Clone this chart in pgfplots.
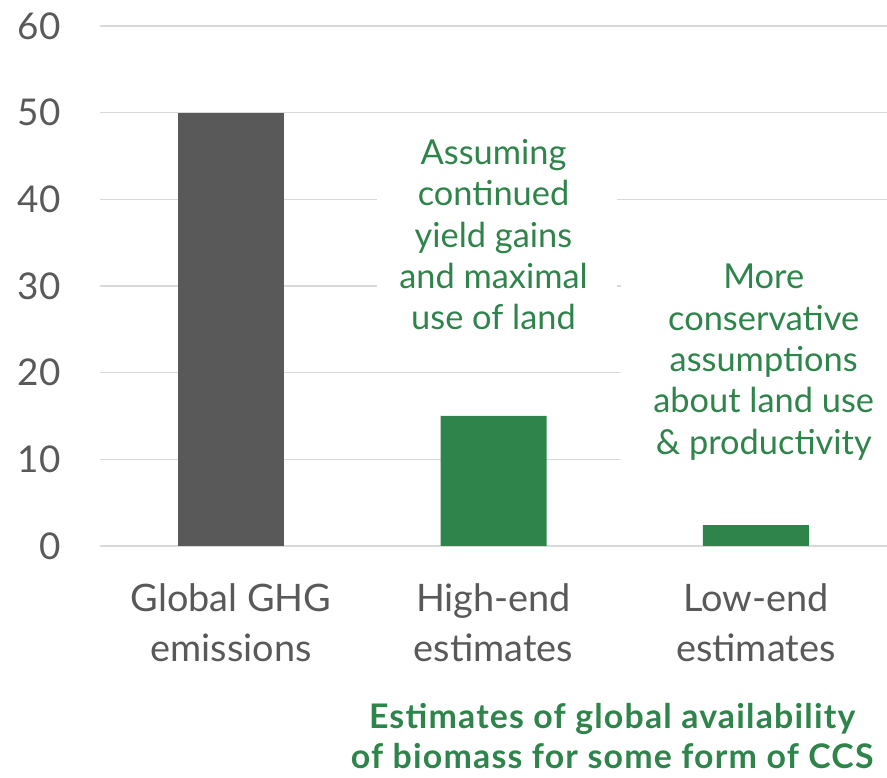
\documentclass[border=0pt]{standalone}
\usepackage{pgfplots}
\pgfplotsset{compat=1.18}
\usepackage{fontspec}
\setmainfont{Lato}
\definecolor{grn}{HTML}{2E844A}
\definecolor{dgray}{HTML}{595959}
\definecolor{gridc}{HTML}{D9D9D9}
\begin{document}
\begin{tikzpicture}
\begin{axis}[
  scale only axis, width=787bp, height=520bp,
  xmin=-0.5, xmax=2.5, ymin=0, ymax=60,
  clip=false,
  axis line style={draw=none},
  major tick length=0pt,
  ytick={0,10,...,60}, xtick={0,1,2},
  xticklabels={{Global GHG\\emissions},{High-end\\estimates},{Low-end\\estimates}},
  ymajorgrids, grid style={gridc, line width=1.5bp},
  /pgf/number format/assume math mode=true,
  yticklabel style={font=\fontsize{37}{40}\selectfont, text=dgray, xshift=-36bp},
  xticklabel style={align=center, font=\fontsize{38}{50}\selectfont, text=dgray, yshift=-34bp},
  ybar, bar width=106bp, bar shift=0pt,
]
\addplot[fill=dgray, draw=none] coordinates {(0,50)};
\addplot[fill=grn, draw=none] coordinates {(1,15) (2,2.4)};
\fill[white] (axis cs:0.556,48.2) rectangle (axis cs:1.47,23.2);
\fill[white] (axis cs:1.486,33.6) rectangle (axis cs:2.5,8.8);
\node[text=grn, align=center, font=\fontsize{34.5}{41.5}\selectfont] at (axis cs:1,35.9) {Assuming\\continued\\yield gains\\and maximal\\use of land};
\node[text=grn, align=center, font=\fontsize{34.5}{41.5}\selectfont] at (axis cs:2.03,21.2) {More\\conservative\\assumptions\\about land use\\\& productivity};
\node[anchor=north, text=grn, align=center, font=\bfseries\fontsize{34}{40}\selectfont\addfontfeatures{LetterSpace=3.5}, yshift=-154bp] at (axis cs:1.452,0) {Estimates of global availability\\of biomass for some form of CCS};
\coordinate (bl) at (rel axis cs:0,0);
\coordinate (tr) at (rel axis cs:1,1);
\end{axis}
\pgfresetboundingbox
\path[use as bounding box] ([xshift=-100bp,yshift=-232bp]bl) rectangle ([yshift=26bp]tr);
\end{tikzpicture}
\end{document}
